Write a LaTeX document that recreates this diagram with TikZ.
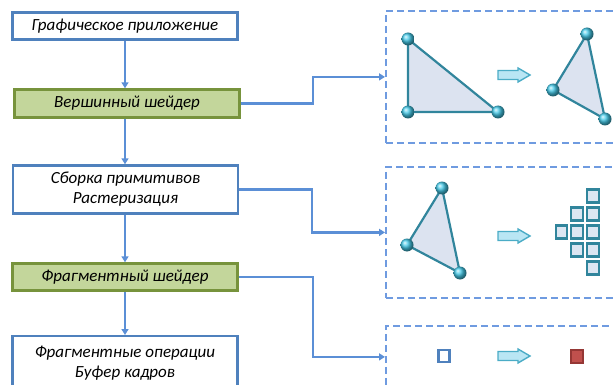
\documentclass[tikz,border=0pt]{standalone}
\usepackage{fontspec}
\setmainfont{Carlito}
\usetikzlibrary{arrows.meta,calc}
\definecolor{boxblue}{HTML}{4F81BD}
\definecolor{linkblue}{HTML}{5B8FD6}
\definecolor{dashblue}{HTML}{6F9BE0}
\definecolor{greenfill}{HTML}{C3D69B}
\definecolor{greenline}{HTML}{77933C}
\definecolor{triedge}{HTML}{31859C}
\definecolor{trifill}{HTML}{DCE3F0}
\definecolor{ballc}{HTML}{45CBEA}
\definecolor{barrowfill}{HTML}{B9E6F4}
\definecolor{barrowline}{HTML}{4BACC6}
\definecolor{sqfill}{HTML}{DCE6F2}
\definecolor{redfill}{HTML}{C0504D}
\definecolor{redline}{HTML}{953735}
\tikzset{
  stage/.style={draw=boxblue,line width=2.4pt,fill=white,minimum width=225pt,inner sep=0pt,
    font=\fontsize{17}{20}\selectfont\itshape,align=center},
  shader/.style={stage,draw=greenline,fill=greenfill},
  dbox/.style={draw=dashblue,line width=1.8pt,dash pattern=on 7pt off 4pt,anchor=north west,inner sep=0pt},
  conn/.style={draw=linkblue,line width=2.2pt,-{Triangle[length=6pt,width=7pt]}},
  tri/.style={draw=triedge,line width=2.2pt,fill=trifill,line join=round},
  pix/.style={draw=triedge,line width=2.2pt,fill=sqfill,minimum width=11.5pt,minimum height=13pt,inner sep=0pt},
  pics/barrow/.style={code={
    \draw[draw=barrowline,fill=barrowfill,line width=1.4pt,line join=miter]
      (-16,-4.5) -- (4,-4.5) -- (4,-7) -- (16,0) -- (4,7) -- (4,4.5) -- (-16,4.5) -- cycle;}}
}
\newcommand{\vball}[2]{\shade[ball color=ballc] (#1,#2) circle (6.5);}
\begin{document}
\begin{tikzpicture}[x=1pt,y=-1pt]
\useasboundingbox (0,0) rectangle (613,385);
\clip (0,0) rectangle (613,385);
% stages
\node[stage,minimum height=27pt] (app) at (125,26) {Графическое приложение};
\node[shader,minimum height=28pt] (vs) at (127,103.5) {Вершинный шейдер};
\node[stage,minimum height=48pt] (asm) at (125.5,189.5) {Сборка примитивов\\Растеризация};
\node[shader,minimum height=27pt] (fs) at (125,277) {Фрагментный шейдер};
\node[stage,minimum height=54pt,anchor=north] (fb) at (125,335) {Фрагментные операции\\Буфер кадров};
% dashed panels
\node[dbox,minimum width=240pt,minimum height=132pt] (dA) at (385,10) {};
\node[dbox,minimum width=240pt,minimum height=131pt] (dB) at (385,166) {};
\node[dbox,minimum width=240pt,minimum height=62pt] (dC) at (385,325) {};
% vertical flow
\draw[conn] (app.south) -- (app.south |- vs.north);
\draw[conn] (app.south |- vs.south) -- (app.south |- asm.north);
\draw[conn] (app.south |- asm.south) -- (app.south |- fs.north);
\draw[conn] (app.south |- fs.south) -- (app.south |- fb.north);
% links to panels
\draw[conn] (vs.east) -- ++(72,0) |- (dA.west);
\draw[conn] (asm.east) -- ++(73,0) |- (dB.west);
\draw[conn] (fs.east) -- ++(74,0) |- (dC.west);
% panel A
\draw[tri] (408,39) -- (408,112) -- (498,112) -- cycle;
\vball{408}{39}\vball{408}{112}\vball{498}{112}
\pic at (514,75) {barrow};
\draw[tri] (587,34) -- (553,90) -- (605,119) -- cycle;
\vball{587}{34}\vball{553}{90}\vball{605}{119}
% panel B
\draw[tri] (442,188) -- (407,245) -- (460,273) -- cycle;
\vball{442}{188}\vball{407}{245}\vball{460}{273}
\pic at (514,236) {barrow};
\node[pix] (p1) at (593,196) {};
\node[pix] (p2) at (577,214) {};
\node[pix] (p3) at (593,214) {};
\node[pix] (p4) at (561.5,232) {};
\node[pix] (p5) at (577,232) {};
\node[pix] (p6) at (593,232) {};
\node[pix] (p7) at (577,250) {};
\node[pix] (p8) at (593,250) {};
\node[pix] (p9) at (593,268) {};
% panel C
\node[draw=boxblue,line width=2.2pt,fill=white,minimum width=11pt,minimum height=12pt,inner sep=0pt] (frag) at (444,356) {};
\pic at (514,356) {barrow};
\node[draw=redline,line width=2pt,fill=redfill,minimum width=12pt,minimum height=13pt,inner sep=0pt] (pixel) at (577,356) {};
\end{tikzpicture}
\end{document}
